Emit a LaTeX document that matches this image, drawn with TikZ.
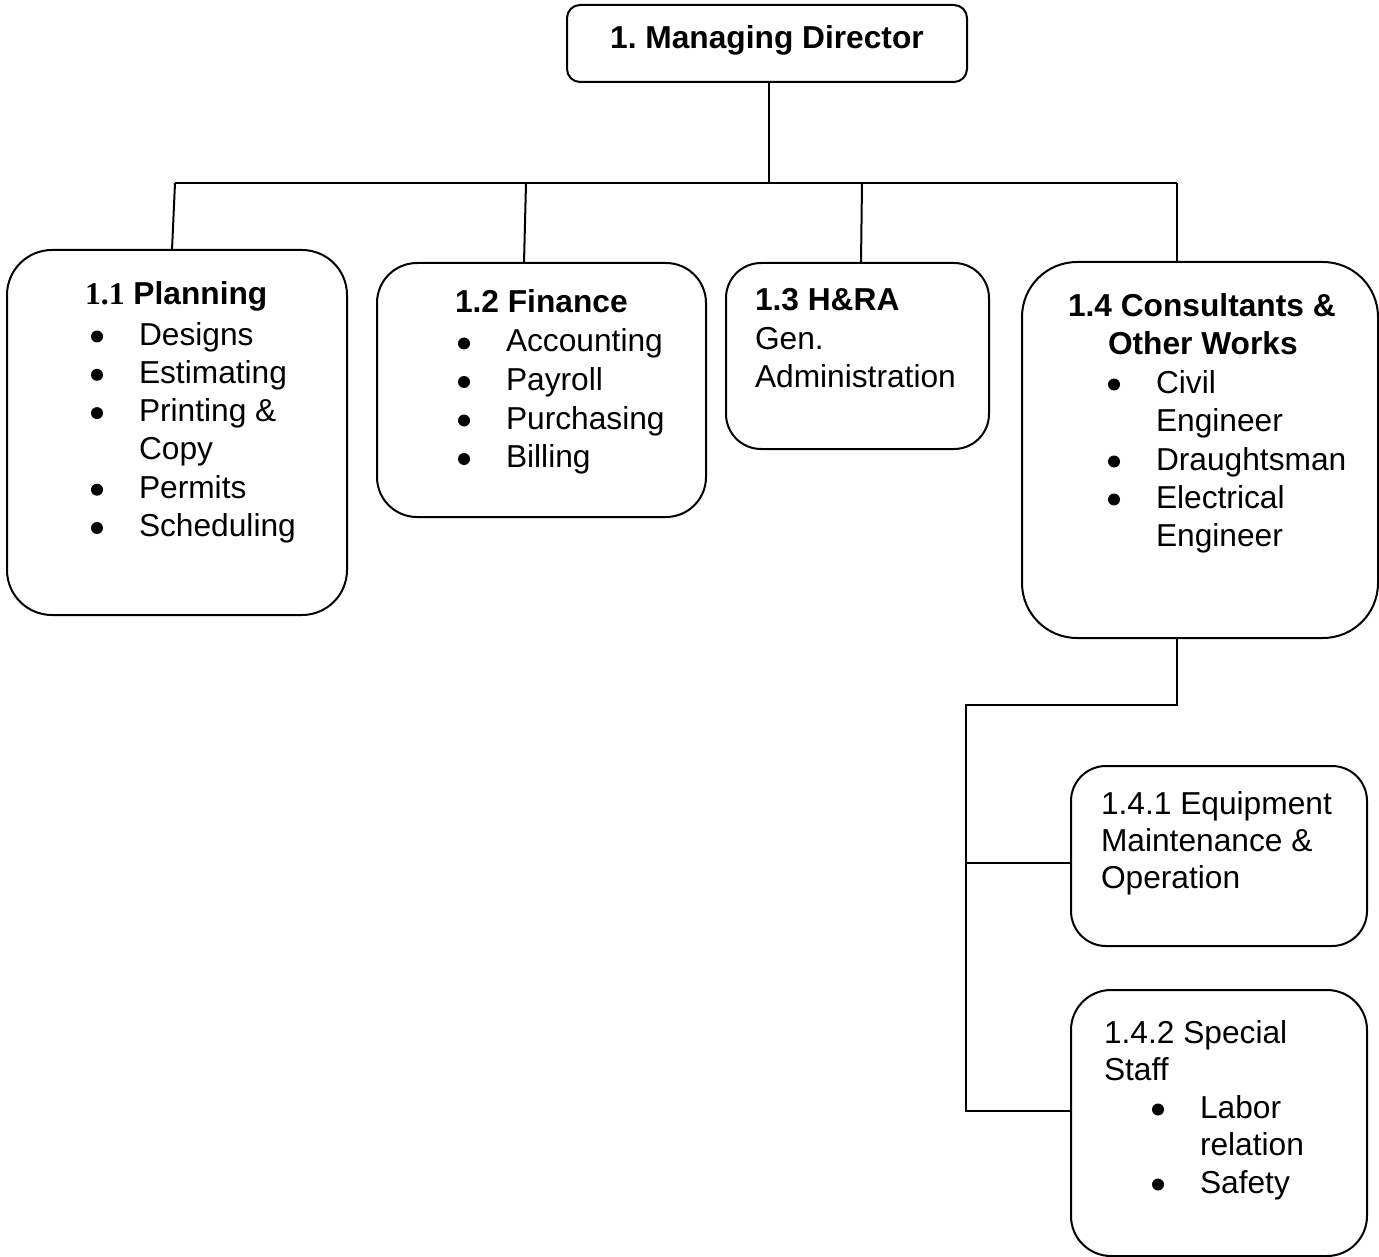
\documentclass[tikz,border=0pt]{standalone}
\usepackage{fontspec}
\setmainfont{Liberation Sans}
\newfontfamily\serifnum{Liberation Serif}
\frenchspacing
\tikzset{
  orgbox/.style={draw, line width=2pt, rounded corners=#1, rectangle,
                 inner sep=0pt, outer sep=0pt},
  orgbox/.default=40pt,
  wire/.style={line width=2pt},
  linetext/.style={anchor=base west, inner sep=0pt, outer sep=0pt,
                   font=\fontsize{31.7pt}{38pt}\selectfont},
  headtext/.style={linetext, font=\fontsize{31.7pt}{38pt}\selectfont\bfseries},
  dotmark/.style={fill=black},
}
% list bullet drawn to the left of an item line
\newcommand{\listdot}[1]{\fill[dotmark] ([xshift=-42pt, yshift=8.5pt]#1.base west) circle (6pt);}
\begin{document}
\begin{tikzpicture}[x=1pt, y=-1pt]
\useasboundingbox (0,0) rectangle (1379,1257);

% ---- boxes ----
\node[orgbox=13pt, minimum width=400pt, minimum height=77pt]  (md)    at (767,43.5)  {};
\node[orgbox=45pt, minimum width=340pt, minimum height=365pt] (plan)  at (177,432.5) {};
\node[orgbox=40pt, minimum width=329pt, minimum height=254pt] (fin)   at (541.5,390) {};
\node[orgbox=35pt, minimum width=263pt, minimum height=186pt] (hra)   at (857.5,356) {};
\node[orgbox=55pt, minimum width=356pt, minimum height=376pt] (cons)  at (1200,450)  {};
\node[orgbox=35pt, minimum width=296pt, minimum height=180pt] (equip) at (1219,856)  {};
\node[orgbox=40pt, minimum width=296pt, minimum height=266pt] (spec)  at (1219,1123) {};

% ---- texts ----
\node[headtext, anchor=base] (mdT) at (767,49) {1. Managing Director};

\node[headtext] (planT) at (85,305) {{\serifnum 1.1} Planning};
\node[linetext] (planA) at (139,345)   {Designs};
\node[linetext] (planB) at (139,383.3) {Estimating};
\node[linetext] (planC) at (139,421.6) {Printing \&};
\node[linetext] (planD) at (139,459.9) {Copy};
\node[linetext] (planE) at (139,498.2) {Permits};
\node[linetext] (planF) at (139,536.5) {Scheduling};

\node[headtext] (finT) at (455,313) {1.2 Finance};
\node[linetext] (finA) at (506,352)   {Accounting};
\node[linetext] (finB) at (506,390.5) {Payroll};
\node[linetext] (finC) at (506,429)   {Purchasing};
\node[linetext] (finD) at (506,467.5) {Billing};

\node[headtext] (hraT) at (755,311) {1.3 H\&RA};
\node[linetext] (hraA) at (755,349) {Gen.};
\node[linetext] (hraB) at (755,387) {Administration};

\node[headtext] (consT) at (1068,317) {1.4 Consultants \&};
\node[headtext] (consU) at (1108,355) {Other Works};
\node[linetext] (consA) at (1156,393) {Civil};
\node[linetext] (consB) at (1156,431) {Engineer};
\node[linetext] (consC) at (1156,470) {Draughtsman};
\node[linetext] (consD) at (1156,508) {Electrical};
\node[linetext] (consE) at (1156,546) {Engineer};

\node[linetext] (equipA) at (1101,814) {1.4.1 Equipment};
\node[linetext] (equipB) at (1101,851) {Maintenance \&};
\node[linetext] (equipC) at (1101,888) {Operation};

\node[linetext] (specA) at (1104,1043) {1.4.2 Special};
\node[linetext] (specB) at (1104,1080) {Staff};
\node[linetext] (specC) at (1200,1118) {Labor};
\node[linetext] (specD) at (1200,1155) {relation};
\node[linetext] (specE) at (1200,1193) {Safety};

% ---- list bullets ----
\listdot{planA}\listdot{planB}\listdot{planC}\listdot{planE}\listdot{planF}
\listdot{finA}\listdot{finB}\listdot{finC}\listdot{finD}
\listdot{consA}\listdot{consC}\listdot{consD}
\listdot{specC}\listdot{specE}

% ---- connectors ----
\coordinate (jmd)  at (769,183);
\coordinate (busL) at (175,183);
\coordinate (busR) at (1177,183);
\coordinate (jfin) at (526,183);
\coordinate (jhra) at (862,183);
\coordinate (k1) at (1177,705);
\coordinate (k2) at (966,705);
\coordinate (k3) at (966,863);
\coordinate (k4) at (966,1111);

\draw[wire] (md.south -| jmd) -- (jmd);
\draw[wire] (busL) -- (busR);
\draw[wire] (busL) -- (plan.north -| 172,0);
\draw[wire] (jfin) -- (fin.north -| 524,0);
\draw[wire] (jhra) -- (hra.north -| 861,0);
\draw[wire] (busR) -- (cons.north -| busR);
\draw[wire] (cons.south -| k1) -- (k1) -- (k2) -- (k4) -- (spec.west |- k4);
\draw[wire] (k3) -- (equip.west |- k3);
\end{tikzpicture}
\end{document}
